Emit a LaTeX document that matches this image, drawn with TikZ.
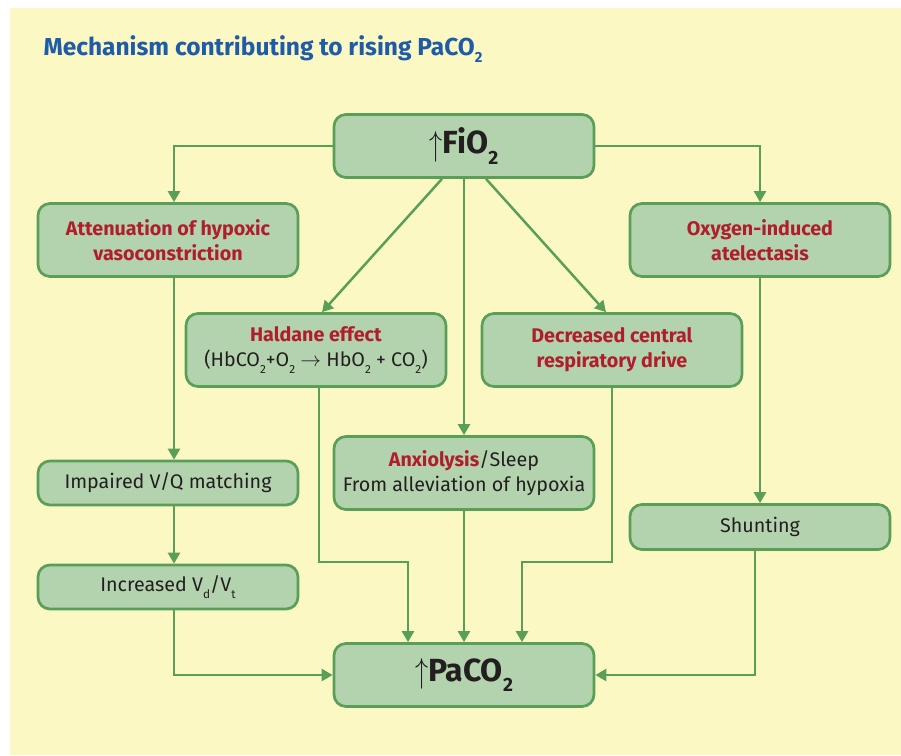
\documentclass[tikz,border=0pt]{standalone}
\usepackage{fontspec}
\setmainfont{Fira Sans}
\usetikzlibrary{arrows.meta}
\definecolor{bgyellow}{HTML}{FCF8C3}
\definecolor{boxgreen}{HTML}{B3D2AE}
\definecolor{linegreen}{HTML}{5A9F58}
\definecolor{mechred}{HTML}{B01E2E}
\definecolor{titleblue}{HTML}{1E5BA8}
\definecolor{bodytext}{HTML}{231F20}
\newcommand{\mech}[1]{\textcolor{mechred}{\textbf{#1}}}
\newcommand{\lowsub}[1]{\raisebox{-0.6ex}{\scalebox{0.6}{#1}}}
\newcommand{\uparr}{\raisebox{-0.1ex}{\scalebox{1.05}[1.4]{$\uparrow$}}}

\tikzset{
  mechbox/.style={draw=linegreen, fill=boxgreen, line width=2.7pt, rounded corners=12pt,
    minimum width=260pt, align=center, inner sep=0pt, text=bodytext,
    font=\fontsize{19.7}{25}\selectfont},
  endbox/.style={mechbox, minimum height=63pt, font=\fontsize{32}{34}\selectfont\bfseries},
  link/.style={draw=linegreen, line width=2.5pt, -{Triangle[width=12pt,length=11pt]}},
}

\begin{document}
\begin{tikzpicture}[x=1pt,y=-1pt]
\useasboundingbox (0,0) rectangle (901,755);
\fill[bgyellow] (10,8) rectangle (901,755);
\node[anchor=base west, text=titleblue, font=\fontsize{24.5}{27}\selectfont\bfseries] (title) at (40,55)
  {Mechanism contributing to rising PaCO\lowsub{2}};

% First the top and bottom boxes
\node[endbox] (fio) at (464,146) {\uparr FiO\lowsub{2}};
\node[endbox] (pco) at (464,675) {\uparr PaCO\lowsub{2}};

% Now the mechanisms
\node[mechbox, minimum height=73pt] (att) at (168,240) {\mech{Attenuation of hypoxic}\\\mech{vasoconstriction}};
\node[mechbox, minimum height=73pt] (oxy) at (760,240) {\mech{Oxygen-induced}\\\mech{atelectasis}};
\node[mechbox, minimum height=73pt] (hal) at (316,350) {\mech{Haldane effect}\\(HbCO\lowsub{2}+O\lowsub{2} $\rightarrow$ HbO\lowsub{2} + CO\lowsub{2})};
\node[mechbox, minimum height=73pt] (dec) at (612,350) {\mech{Decreased central}\\\mech{respiratory drive}};
\node[mechbox, minimum height=73pt] (anx) at (464,473) {\mech{Anxiolysis}/Sleep\\From alleviation of hypoxia};
\node[mechbox, minimum height=44pt] (imp) at (168,483) {Impaired V/Q matching};
\node[mechbox, minimum height=44pt] (inc) at (168,587) {Increased V\lowsub{d}/V\lowsub{t}};
\node[mechbox, minimum height=45pt] (shu) at (760,527) {Shunting};

% Now the links from FiO2
\draw[link] (fio.west) -| ([xshift=6pt]att.north);
\draw[link] (fio.east) -| (oxy.north);
\draw[link] ([xshift=-22pt]fio.south) -- ([xshift=6pt]hal.north);
\draw[link] (fio.south) -- (anx.north);
\draw[link] ([xshift=22pt]fio.south) -- ([xshift=-6pt]dec.north);

% Now the left and right chains
\draw[link] ([xshift=6pt]att.south) -- ([xshift=6pt]imp.north);
\draw[link] ([xshift=6pt]imp.south) -- ([xshift=6pt]inc.north);
\draw[link] ([xshift=6pt]inc.south) |- (pco.west);
\draw[link] (oxy.south) -- (shu.north);
\draw[link] ([xshift=-5pt]shu.south) |- (pco.east);

% Now the links into PaCO2
\draw[link] ([xshift=3pt]hal.south) -- ++(0,174) -| ([xshift=-56pt]pco.north);
\draw[link] (anx.south) -- (pco.north);
\draw[link] (dec.south) -- ++(0,174) -| ([xshift=58pt]pco.north);
\end{tikzpicture}
\end{document}
